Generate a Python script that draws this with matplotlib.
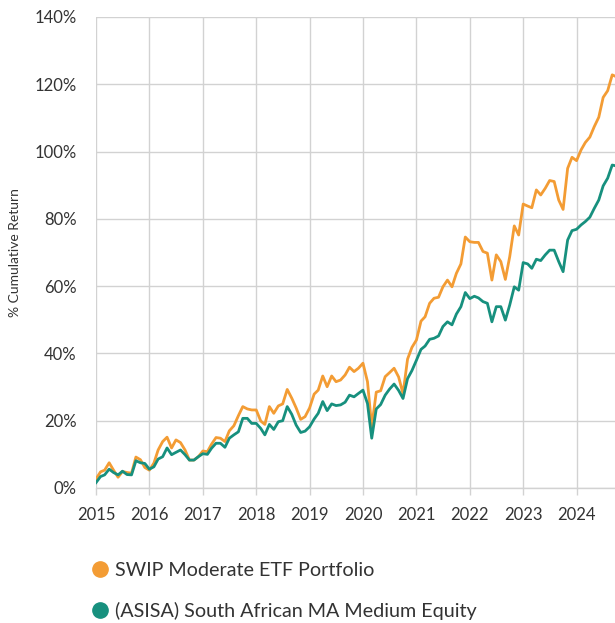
import matplotlib
matplotlib.use("Agg")
import matplotlib.pyplot as plt
import matplotlib.dates as mdates
from matplotlib.lines import Line2D
from matplotlib.ticker import FuncFormatter, MultipleLocator
import pandas as pd

plt.rcParams['font.family'] = ['Lato', 'DejaVu Sans']

# monthly cumulative returns (%), Jan 2015 onwards
swip = [2.7, 4.8, 5.3, 7.5, 5.3, 3.2, 4.9, 4.6, 4.4, 9.2, 8.4, 6.1,
        5.3, 7.4, 11.3, 13.8, 15.1, 11.9, 14.3, 13.5, 11.3, 8.3, 8.3, 9.3,
        11.0, 10.8, 13.0, 15.0, 14.8, 13.8, 17.0, 18.5, 21.5, 24.2, 23.5, 23.2,
        23.2, 19.9, 18.9, 24.2, 22.2, 24.4, 25.0, 29.3, 26.7, 23.8, 20.4, 21.2,
        23.8, 27.9, 29.1, 33.3, 30.1, 33.3, 31.6, 32.1, 33.6, 35.9, 34.6, 35.6,
        37.1, 31.6, 18.2, 28.5, 28.9, 33.1, 34.3, 35.6, 33.0, 28.0, 38.3, 41.8,
        44.0, 49.6, 50.9, 54.9, 56.4, 56.7, 59.8, 61.8, 59.8, 63.8, 66.6, 74.6,
        73.2, 73.0, 73.0, 70.3, 69.8, 61.8, 69.3, 67.3, 62.0, 68.8, 77.9, 75.2,
        84.4, 83.8, 83.3, 88.6, 87.1, 89.1, 91.4, 91.1, 85.6, 82.8, 95.0, 98.3,
        97.3, 100.5, 102.7, 104.3, 107.4, 110.2, 116.1, 118.1, 122.8, 122.2]

asisa = [1.6, 3.4, 3.9, 5.6, 4.6, 3.9, 5.0, 4.0, 3.9, 8.1, 7.5, 7.3,
         5.6, 6.3, 8.6, 9.3, 11.9, 9.9, 10.6, 11.3, 9.9, 8.3, 8.3, 9.3,
         10.2, 10.0, 11.8, 13.3, 13.3, 12.1, 14.8, 15.8, 16.7, 20.7, 20.7, 19.2,
         19.2, 17.7, 15.8, 18.9, 17.4, 19.7, 20.0, 24.2, 21.9, 18.7, 16.5, 16.9,
         18.2, 20.5, 22.2, 25.7, 23.0, 25.0, 24.5, 24.7, 25.5, 27.6, 27.1, 28.1,
         29.1, 25.1, 14.8, 23.5, 24.8, 27.6, 29.4, 30.9, 29.0, 26.6, 32.5, 34.9,
         38.0, 41.2, 42.2, 44.2, 44.5, 45.2, 48.0, 49.4, 48.5, 51.7, 53.9, 58.1,
         56.3, 57.0, 56.5, 55.4, 54.9, 49.4, 53.9, 53.9, 49.9, 54.4, 59.8, 58.8,
         67.0, 66.6, 65.3, 68.0, 67.6, 69.3, 70.7, 70.7, 67.3, 64.3, 73.7, 76.5,
         76.9, 78.2, 79.2, 80.5, 83.1, 85.6, 89.8, 92.1, 96.0, 95.7]

dates = pd.date_range('2015-01-01', periods=len(swip), freq='MS')

labels = ['SWIP Moderate ETF Portfolio', '(ASISA) South African MA Medium Equity']
colors = ['#F39C34', '#17907E']
text_color = '#333333'
grid_color = '#d2d2d2'

fig = plt.figure(figsize=(6.15, 6.23), dpi=100)
ax = fig.add_axes([96 / 615, 1 - 488 / 623, 519 / 615, 471 / 623])

ax.plot(dates, swip, color=colors[0], linewidth=2.0, solid_joinstyle='round')
ax.plot(dates, asisa, color=colors[1], linewidth=2.0, solid_joinstyle='round')

ax.set_ylim(0, 140)
ax.yaxis.set_major_locator(MultipleLocator(20))
ax.yaxis.set_major_formatter(FuncFormatter(lambda v, p: f'{v:.0f}%'))
ax.set_xlim(pd.Timestamp('2015-01-01'), pd.Timestamp('2024-09-20'))
ax.xaxis.set_major_locator(mdates.YearLocator())
ax.xaxis.set_major_formatter(mdates.DateFormatter('%Y'))

ax.grid(True, color=grid_color, linewidth=1.0)
ax.set_axisbelow(True)
for side in ['top', 'right', 'left']:
    ax.spines[side].set_visible(False)
ax.spines['bottom'].set_color(grid_color)
ax.spines['bottom'].set_linewidth(1.0)

ax.tick_params(axis='y', length=0, pad=14, labelsize=12, labelcolor=text_color)
ax.tick_params(axis='x', length=5, width=1, color=grid_color, pad=9,
               labelsize=12, labelcolor=text_color)

ax.set_ylabel('% Cumulative Return', fontsize=10, color=text_color)
ax.yaxis.set_label_coords(-0.145, 0.5)

handles = [Line2D([], [], marker='o', linestyle='', markersize=11,
                  markerfacecolor=c, markeredgecolor=c) for c in colors]
fig.legend(handles, labels, loc='upper left',
           bbox_to_anchor=(91.5 / 615, 1 - 562 / 623),
           frameon=False, fontsize=14.2, handlelength=0.9, handletextpad=0.3,
           borderpad=0, borderaxespad=0, labelspacing=1.18,
           labelcolor=text_color)

fig.savefig('out.png', dpi=100)
